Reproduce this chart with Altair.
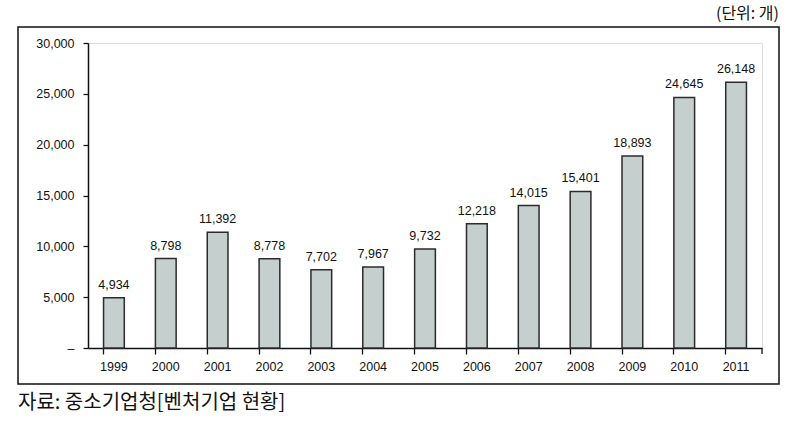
import altair as alt
import pandas as pd

years = ["1999", "2000", "2001", "2002", "2003", "2004", "2005", "2006", "2007", "2008", "2009", "2010", "2011"]
counts = [4934, 8798, 11392, 8778, 7702, 7967, 9732, 12218, 14015, 15401, 18893, 24645, 26148]
y_ticks = [0, 5000, 10000, 15000, 20000, 25000, 30000]
unit_text = "(단위: 개)"
source_text = "자료: 중소기업청[벤처기업 현황]"

df = pd.DataFrame({"year": years, "count": counts})
NUM_FONT = "Liberation Sans"
KR_FONT = "Noto Sans CJK KR"

base = alt.Chart(df)

bars = base.mark_bar(color="#c5d0ce", stroke="#2b2b2b", strokeWidth=1.5).encode(
    x=alt.X("year:N", sort=years, title=None,
            scale=alt.Scale(paddingInner=0.6, paddingOuter=0.3),
            axis=alt.Axis(labelAngle=0, bandPosition=0, tickSize=6, tickColor="#111",
                          domainColor="#111", domainWidth=1.5, tickWidth=1.3,
                          labelFont=NUM_FONT, labelFontSize=12.5, labelColor="#111",
                          labelPadding=6, grid=False)),
    y=alt.Y("count:Q", title=None,
            scale=alt.Scale(domain=[0, 30000]),
            axis=alt.Axis(values=y_ticks,
                          labelExpr="datum.value === 0 ? '–' : format(datum.value, ',')",
                          tickSize=5, tickColor="#111", domainColor="#111", domainWidth=1.5,
                          tickWidth=1.3, labelFont=NUM_FONT, labelFontSize=12.5,
                          labelColor="#111", labelPadding=9, grid=False)),
)

labels = base.mark_text(baseline="bottom", dy=-6, font=NUM_FONT, fontSize=12.5, color="#111").encode(
    x=alt.X("year:N", sort=years),
    y="count:Q",
    text=alt.Text("count:Q", format=","),
)

one = pd.DataFrame({"a": [0]})
frame = alt.Chart(one).mark_rect(fill=None, stroke="#111", strokeWidth=1.5).encode(
    x=alt.value(-70), x2=alt.value(691), y=alt.value(-16), y2=alt.value(341)
)
end_tick = alt.Chart(one).mark_rule(color="#111", strokeWidth=1.3).encode(
    x=alt.value(674), y=alt.value(305), y2=alt.value(311)
)
unit = alt.Chart(pd.DataFrame({"t": [unit_text]})).mark_text(
    align="right", baseline="middle", font=KR_FONT, fontSize=16, color="#111"
).encode(x=alt.value(691), y=alt.value(-29), text="t:N")
source = alt.Chart(pd.DataFrame({"t": [source_text]})).mark_text(
    align="left", baseline="middle", font=KR_FONT, fontSize=20, color="#111"
).encode(x=alt.value(-70), y=alt.value(360), text="t:N")

chart = alt.layer(frame, bars, labels, end_tick, unit, source).properties(
    width=674, height=305,
    autosize=alt.AutoSizeParams(type="none"),
    padding={"left": 88, "top": 43, "right": 30, "bottom": 76},
).configure_view(stroke=None).configure(background="white")

chart.save("out.html", embed_options={"renderer": "svg", "actions": False})
